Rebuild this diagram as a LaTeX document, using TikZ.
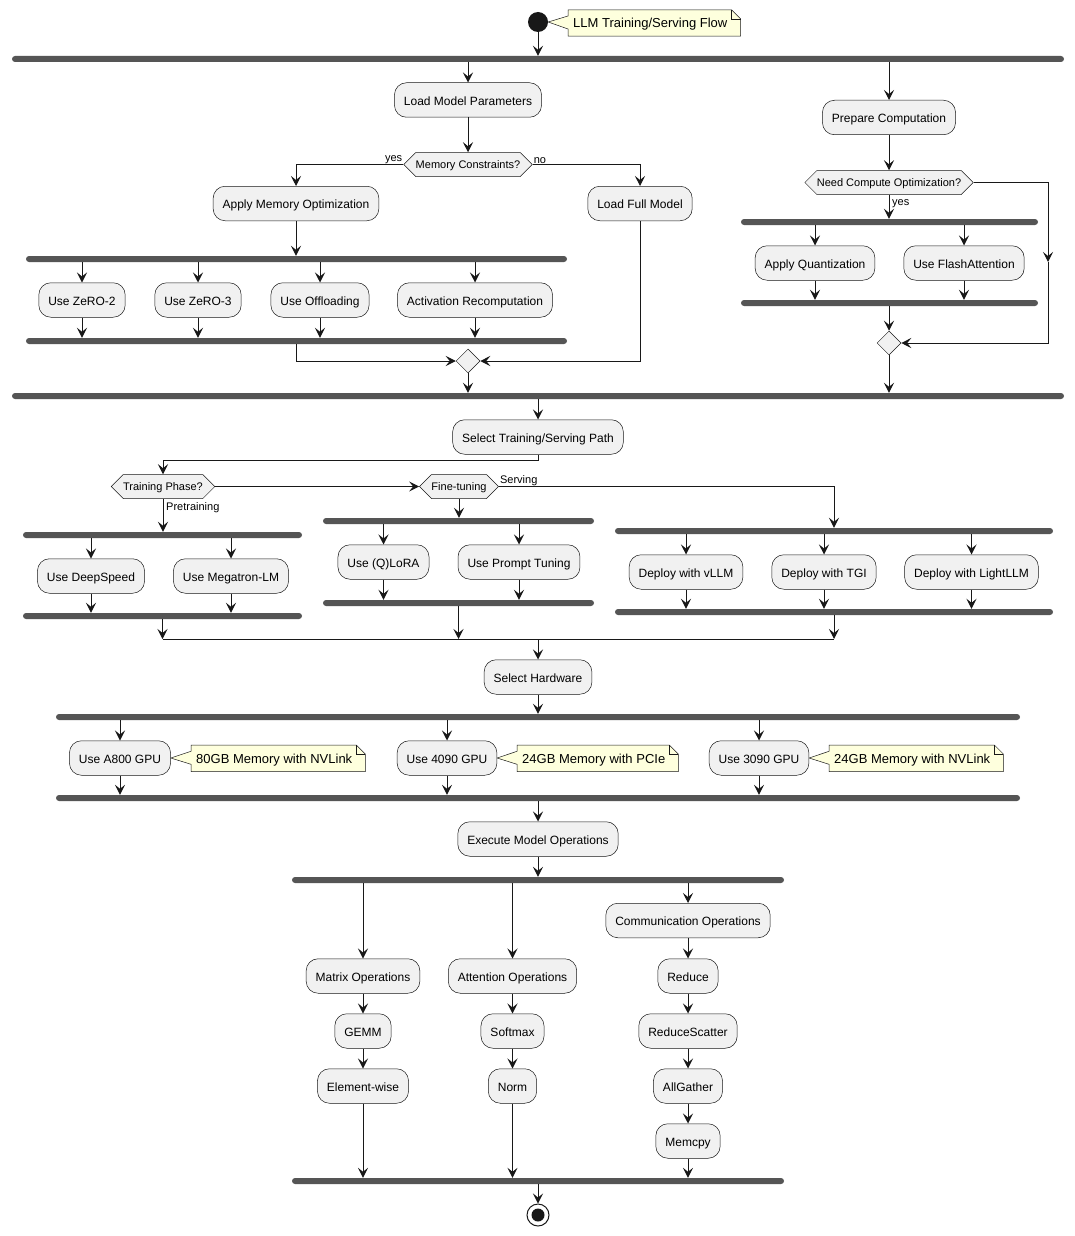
\documentclass[tikz,border=0pt]{standalone}
\usepackage{fontspec}
\setmainfont{Liberation Sans}
\usetikzlibrary{arrows.meta,shapes.geometric,shapes.symbols}
\definecolor{actfill}{HTML}{F1F1F1}
\definecolor{bd}{HTML}{181818}
\definecolor{barc}{HTML}{555555}
\definecolor{notef}{HTML}{FEFFDD}
\pgfdeclarelayer{background}
\pgfdeclarelayer{canvas}
\pgfsetlayers{canvas,background,main}
\begin{document}
\begin{tikzpicture}[x=1pt,y=-1pt,
  act/.style={rectangle, rounded corners=12pt, fill=actfill, draw=bd, line width=0.5pt, minimum height=34.5pt, inner xsep=9.5pt, inner ysep=0pt, text height=10.2pt, text depth=0pt, font=\fontsize{12}{14}\selectfont},
  dec/.style={signal, signal to=west and east, signal pointer angle=90, fill=actfill, draw=bd, line width=0.5pt, minimum height=24pt, inner xsep=0pt, inner ysep=0pt, text height=8.9pt, text depth=0pt, font=\fontsize{11}{13}\selectfont},
  mrg/.style={diamond, fill=actfill, draw=bd, line width=0.5pt, minimum width=24pt, minimum height=24pt, inner sep=0pt},
  bar/.style={rectangle, fill=barc, rounded corners=3pt, minimum height=6pt, inner sep=0pt},
  notetxt/.style={anchor=west, inner xsep=5pt, inner ysep=0pt, minimum height=26pt, text height=9.9pt, text depth=0pt, font=\fontsize{13}{15}\selectfont},
  noteshape/.style={fill=notef, draw=bd, line width=0.5pt, line join=miter},
  arr/.style={draw=bd, line width=1pt, -{Stealth[length=10pt,width=10pt,inset=4pt]}},
  ln/.style={draw=bd, line width=1pt},
  lbl/.style={font=\fontsize{11}{13}\selectfont, inner sep=1pt},
]
\begin{pgfonlayer}{canvas}
\fill[white] (0,0) rectangle (1075,1236);
\end{pgfonlayer}
\useasboundingbox (0,0) rectangle (1075,1236);

% start and title note
\node[circle, fill=bd, minimum size=20pt, inner sep=0pt] (start) at (538,22) {};
\node[notetxt] (n0) at (568,23) {LLM Training/Serving Flow};

% bars
\node[bar, minimum width=1052pt] (b1) at (538,59) {};
\node[bar, minimum width=541pt] (b2) at (296.5,259) {};
\node[bar, minimum width=541pt] (b3) at (296.5,341) {};
\node[bar, minimum width=1052pt] (b4) at (538,396) {};
\node[bar, minimum width=297pt] (b5) at (889.5,222) {};
\node[bar, minimum width=297pt] (b6) at (889.5,303) {};
\node[bar, minimum width=279pt] (b7) at (162.5,535) {};
\node[bar, minimum width=279pt] (b8) at (162.5,616) {};
\node[bar, minimum width=271pt] (b9) at (458.5,521) {};
\node[bar, minimum width=271pt] (b10) at (458.5,603) {};
\node[bar, minimum width=438pt] (b11) at (834,531) {};
\node[bar, minimum width=438pt] (b12) at (834,612) {};
\node[bar, minimum width=964pt] (b13) at (538,717) {};
\node[bar, minimum width=964pt] (b14) at (538,798) {};
\node[bar, minimum width=492pt] (b15) at (538,880) {};
\node[bar, minimum width=492pt] (b16) at (538,1181) {};

% activities
\node[act] (lmp) at (468,100) {Load Model Parameters};
\node[act] (prep) at (889,117.5) {Prepare Computation};
\node[act] (amo) at (296,203.5) {Apply Memory Optimization};
\node[act] (lfm) at (640,203.5) {Load Full Model};
\node[act] (z2) at (82,300) {Use ZeRO-2};
\node[act] (z3) at (198,300) {Use ZeRO-3};
\node[act] (off) at (320,300) {Use Offloading};
\node[act] (arc) at (475,300) {Activation Recomputation};
\node[act] (quant) at (815,263) {Apply Quantization};
\node[act] (flash) at (964,263) {Use FlashAttention};
\node[act] (sel) at (538,437) {Select Training/Serving Path};
\node[act] (ds) at (91,576) {Use DeepSpeed};
\node[act] (mlm) at (231,576) {Use Megatron-LM};
\node[act] (qlora) at (383.5,562) {Use (Q)LoRA};
\node[act] (pt) at (519,562) {Use Prompt Tuning};
\node[act] (vllm) at (686,572) {Deploy with vLLM};
\node[act] (tgi) at (824,572) {Deploy with TGI};
\node[act] (light) at (971.5,572) {Deploy with LightLLM};
\node[act] (hw) at (538,677) {Select Hardware};
\node[act] (a800) at (120,758) {Use A800 GPU};
\node[act] (g4090) at (447,758) {Use 4090 GPU};
\node[act] (g3090) at (759,758) {Use 3090 GPU};
\node[act] (exec) at (538,839) {Execute Model Operations};
\node[act] (comm) at (688,920.5) {Communication Operations};
\node[act] (mat) at (363,976) {Matrix Operations};
\node[act] (att) at (512.5,976) {Attention Operations};
\node[act] (red) at (688,976) {Reduce};
\node[act] (gemm) at (363,1031) {GEMM};
\node[act] (soft) at (512.5,1031) {Softmax};
\node[act] (rs) at (688,1031) {ReduceScatter};
\node[act] (elem) at (363,1086) {Element-wise};
\node[act] (norm) at (512.5,1086) {Norm};
\node[act] (ag) at (688,1086) {AllGather};
\node[act] (mem) at (688,1141) {Memcpy};

% GPU notes
\node[notetxt] (n1) at (191,758.3) {80GB Memory with NVLink};
\node[notetxt] (n2) at (517,758.3) {24GB Memory with PCIe};
\node[notetxt] (n3) at (829,758.3) {24GB Memory with NVLink};

% decisions and merges
\node[dec] (dmem) at (468,164.5) {Memory Constraints?};
\node[dec] (dcomp) at (889,182.5) {Need Compute Optimization?};
\node[dec] (dtrain) at (163,486.5) {Training Phase?};
\node[dec] (dfine) at (459,486.5) {Fine-tuning};
\node[mrg] (m1) at (468,361) {};
\node[mrg] (m2) at (889,343) {};

% end
\node[circle, draw=bd, line width=1pt, fill=white, minimum size=22pt, inner sep=0pt] (end) at (538,1215) {};
\node[circle, fill=bd, minimum size=13pt, inner sep=0pt] (endin) at (end) {};

% note outlines
\begin{pgfonlayer}{background}
\foreach \n/\t in {n0/start, n1/a800, n2/g4090, n3/g3090}{
  \draw[noteshape] (\n.north west) -- ([xshift=-1pt]\n.north east) -- ([xshift=8pt,yshift=-9pt]\n.north east) -- ([xshift=8pt]\n.south east) -- (\n.south west) -- ([yshift=-6pt]\n.west) -- (\t.east) -- ([yshift=7pt]\n.west) -- cycle;
  \draw[noteshape, fill=none] ([xshift=-1pt]\n.north east) |- ([xshift=8pt,yshift=-9pt]\n.north east);
}
\end{pgfonlayer}

% connectors: section 1
\draw[arr] (start.south) -- (b1.north);
\draw[arr] (b1.south -| lmp.north) -- (lmp.north);
\draw[arr] (b1.south -| prep.north) -- (prep.north);
\draw[arr] (lmp.south) -- (dmem.north);
\draw[arr] (dmem.west) -| (amo.north);
\node[lbl, anchor=south east] (lyes1) at (dmem.west) {yes};
\draw[arr] (dmem.east) -| (lfm.north);
\node[lbl, anchor=south west] (lno1) at (dmem.east) {no};
\draw[arr] (amo.south) -- (amo.south |- b2.north);
\foreach \a in {z2,z3,off,arc}{
  \draw[arr] (b2.south -| \a.north) -- (\a.north);
  \draw[arr] (\a.south) -- (\a.south |- b3.north);
}
\draw[arr] (b3.south -| amo.south) |- (m1.west);
\draw[arr] (lfm.south) |- (m1.east);
\draw[arr] (m1.south) -- (m1.south |- b4.north);

\draw[arr] (prep.south) -- (dcomp.north);
\draw[arr] (dcomp.south) -- (dcomp.south |- b5.north);
\node[lbl, anchor=north west] (lyes2) at ([xshift=2pt,yshift=-4pt]dcomp.south) {yes};
\coordinate (byp) at (1048,262);
\draw[arr] (dcomp.east) -| (byp);
\draw[arr] (byp) |- (m2.east);
\foreach \a in {quant,flash}{
  \draw[arr] (b5.south -| \a.north) -- (\a.north);
  \draw[arr] (\a.south) -- (\a.south |- b6.north);
}
\draw[arr] (b6.south -| m2.north) -- (m2.north);
\draw[arr] (m2.south) -- (m2.south |- b4.north);

% section 2
\draw[arr] (b4.south -| sel.north) -- (sel.north);
\draw[arr] (sel.south) -- ++(0,5.5) -| (dtrain.north);
\draw[arr] (dtrain.east) -- (dfine.west);
\draw[arr] (dtrain.south) -- (dtrain.south |- b7.north);
\node[lbl, anchor=north west] (lpre) at ([xshift=2pt,yshift=-3pt]dtrain.south) {Pretraining};
\draw[arr] (dfine.south) -- (dfine.south |- b9.north);
\draw[arr] (dfine.east) -| (b11.north);
\node[lbl, anchor=south west] (lserv) at (dfine.east) {Serving};
\foreach \a in {ds,mlm}{
  \draw[arr] (b7.south -| \a.north) -- (\a.north);
  \draw[arr] (\a.south) -- (\a.south |- b8.north);
}
\foreach \a in {qlora,pt}{
  \draw[arr] (b9.south -| \a.north) -- (\a.north);
  \draw[arr] (\a.south) -- (\a.south |- b10.north);
}
\foreach \a in {vllm,tgi,light}{
  \draw[arr] (b11.south -| \a.north) -- (\a.north);
  \draw[arr] (\a.south) -- (\a.south |- b12.north);
}
\coordinate (j) at (538,639);
\draw[arr] (b8.south) -- (b8.south |- j);
\draw[arr] (b10.south) -- (b10.south |- j);
\draw[arr] (b12.south) -- (b12.south |- j);
\draw[ln] (b8.south |- j) -- (b12.south |- j);
\draw[arr] (j) -- (hw.north);
\draw[arr] (hw.south) -- (hw.south |- b13.north);
\foreach \a in {a800,g4090,g3090}{
  \draw[arr] (b13.south -| \a.north) -- (\a.north);
  \draw[arr] (\a.south) -- (\a.south |- b14.north);
}

% section 3
\draw[arr] (b14.south -| exec.north) -- (exec.north);
\draw[arr] (exec.south) -- (exec.south |- b15.north);
\draw[arr] (b15.south -| mat.north) -- (mat.north);
\draw[arr] (b15.south -| att.north) -- (att.north);
\draw[arr] (b15.south -| comm.north) -- (comm.north);
\draw[arr] (mat) -- (gemm);
\draw[arr] (gemm) -- (elem);
\draw[arr] (att) -- (soft);
\draw[arr] (soft) -- (norm);
\draw[arr] (comm) -- (red);
\draw[arr] (red) -- (rs);
\draw[arr] (rs) -- (ag);
\draw[arr] (ag) -- (mem);
\draw[arr] (elem.south) -- (elem.south |- b16.north);
\draw[arr] (norm.south) -- (norm.south |- b16.north);
\draw[arr] (mem.south) -- (mem.south |- b16.north);
\draw[arr] (b16.south -| end.north) -- (end.north);
\end{tikzpicture}
\end{document}
